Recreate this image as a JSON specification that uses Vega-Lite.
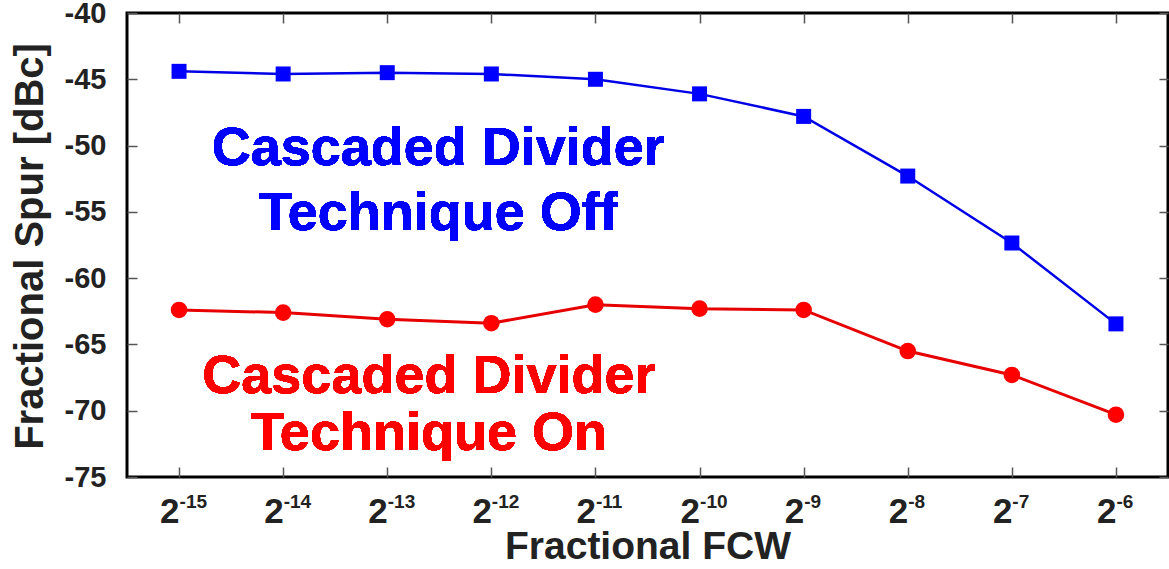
{
  "$schema": "https://vega.github.io/schema/vega-lite/v6.json",
  "autosize": {"type": "none"},
  "padding": {"left": 127, "top": 13, "right": 1, "bottom": 92},
  "width": 1041,
  "height": 464,
  "background": "white",
  "config": {
    "view": {"stroke": "#000000", "strokeWidth": 3},
    "font": "Liberation Sans",
    "axis": {"labelFont": "Liberation Sans", "titleFont": "Liberation Sans", "labelFontWeight": "bold", "titleFontWeight": "bold", "labelColor": "#222222", "titleColor": "#222222", "domain": false, "grid": false, "tickColor": "#555555", "tickWidth": 1.5}
  },
  "data": {
    "values": [
      {"exp": -15, "series": "Off", "spur": -44.4},
      {"exp": -14, "series": "Off", "spur": -44.6},
      {"exp": -13, "series": "Off", "spur": -44.5},
      {"exp": -12, "series": "Off", "spur": -44.6},
      {"exp": -11, "series": "Off", "spur": -45.0},
      {"exp": -10, "series": "Off", "spur": -46.1},
      {"exp": -9, "series": "Off", "spur": -47.8},
      {"exp": -8, "series": "Off", "spur": -52.3},
      {"exp": -7, "series": "Off", "spur": -57.35},
      {"exp": -6, "series": "Off", "spur": -63.45},
      {"exp": -15, "series": "On", "spur": -62.4},
      {"exp": -14, "series": "On", "spur": -62.6},
      {"exp": -13, "series": "On", "spur": -63.1},
      {"exp": -12, "series": "On", "spur": -63.4},
      {"exp": -11, "series": "On", "spur": -62.0},
      {"exp": -10, "series": "On", "spur": -62.3},
      {"exp": -9, "series": "On", "spur": -62.4},
      {"exp": -8, "series": "On", "spur": -65.5},
      {"exp": -7, "series": "On", "spur": -67.3},
      {"exp": -6, "series": "On", "spur": -70.3}
    ]
  },
  "resolve": {"axis": {"x": "independent", "y": "independent"}},
  "layer": [
    {
      "transform": [{"filter": "datum.series === 'Off'"}],
      "mark": {"type": "line", "color": "#0000e6", "strokeWidth": 2.5},
      "encoding": {
        "x": {"field": "exp", "type": "quantitative", "scale": {"domain": [-15.5, -5.5], "nice": false, "zero": false},
          "axis": {"orient": "bottom", "values": [-15, -14, -13, -12, -11, -10, -9, -8, -7, -6], "labelExpr": "'2'", "labelFontSize": 35, "labelBaseline": "alphabetic", "labelAlign": "right", "labelDx": 5, "labelPadding": 55, "tickSize": -10, "labelOverlap": false,
            "title": "Fractional FCW", "titleFontSize": 39, "titleBaseline": "alphabetic", "titleY": 81}},
        "y": {"field": "spur", "type": "quantitative", "scale": {"domain": [-75, -40], "nice": false, "zero": false},
          "axis": {"orient": "left", "values": [-75, -70, -65, -60, -55, -50, -45, -40], "labelExpr": "'' + datum.value", "labelFontSize": 29, "labelPadding": 31, "tickSize": -10, "labelBaseline": "middle",
            "title": "Fractional Spur [dBc]", "titleFontSize": 40, "titleAngle": -90, "titleBaseline": "alphabetic", "titleAlign": "center", "titleX": -85, "titleY": 233}}
      }
    },
    {
      "transform": [{"filter": "datum.series === 'Off'"}],
      "mark": {"type": "point", "shape": "square", "filled": true, "color": "#0000ff", "size": 225, "opacity": 1},
      "encoding": {
        "x": {"field": "exp", "type": "quantitative",
          "axis": {"orient": "bottom", "values": [-15, -14, -13, -12, -11, -10, -9, -8, -7, -6], "labelExpr": "'-' + abs(datum.value)", "labelFontSize": 19, "labelBaseline": "alphabetic", "labelAlign": "left", "labelDx": 5, "labelPadding": 30, "ticks": false, "tickSize": 0, "labelOverlap": false, "title": null}},
        "y": {"field": "spur", "type": "quantitative", "axis": null}
      }
    },
    {
      "transform": [{"filter": "datum.series === 'On'"}],
      "mark": {"type": "line", "color": "#e60000", "strokeWidth": 3},
      "encoding": {
        "x": {"field": "exp", "type": "quantitative",
          "axis": {"orient": "top", "values": [-15, -14, -13, -12, -11, -10, -9, -8, -7, -6], "labels": false, "tickSize": -10, "title": null}},
        "y": {"field": "spur", "type": "quantitative",
          "axis": {"orient": "right", "values": [-75, -70, -65, -60, -55, -50, -45, -40], "labels": false, "tickSize": -9, "title": null}}
      }
    },
    {
      "transform": [{"filter": "datum.series === 'On'"}],
      "mark": {"type": "point", "shape": "circle", "filled": true, "color": "#ff0000", "size": 275, "opacity": 1},
      "encoding": {
        "x": {"field": "exp", "type": "quantitative", "axis": null},
        "y": {"field": "spur", "type": "quantitative", "axis": null}
      }
    },
    {
      "mark": {"type": "text", "text": ["Cascaded Divider", "Technique Off"], "font": "Liberation Sans", "fontWeight": "bold", "fontSize": 54, "lineHeight": 65, "align": "center", "baseline": "alphabetic", "color": "#0000ff"},
      "encoding": {
        "x": {"datum": -12.51, "type": "quantitative", "axis": null},
        "y": {"datum": -51.47, "type": "quantitative", "axis": null}
      }
    },
    {
      "mark": {"type": "text", "text": ["Cascaded Divider", "Technique On"], "font": "Liberation Sans", "fontWeight": "bold", "fontSize": 54, "lineHeight": 57, "align": "center", "baseline": "alphabetic", "color": "#ff0000"},
      "encoding": {
        "x": {"datum": -12.6, "type": "quantitative", "axis": null},
        "y": {"datum": -68.66, "type": "quantitative", "axis": null}
      }
    }
  ]
}
